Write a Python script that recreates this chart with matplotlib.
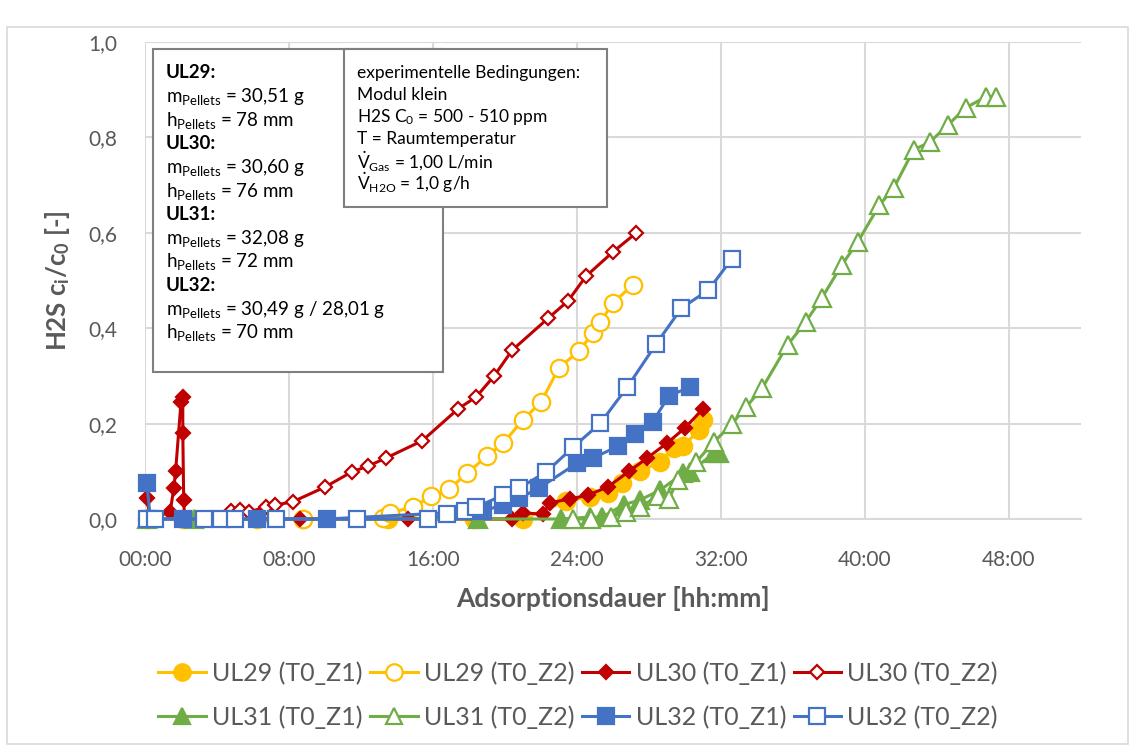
import matplotlib
matplotlib.use("Agg")
import matplotlib.pyplot as plt
from matplotlib.patches import Rectangle
from matplotlib.ticker import FixedLocator, FuncFormatter

plt.rcParams['font.family'] = ['Lato', 'DejaVu Sans']
plt.rcParams['mathtext.fontset'] = 'custom'
plt.rcParams['mathtext.rm'] = 'Lato'
plt.rcParams['mathtext.it'] = 'Lato:italic'
plt.rcParams['mathtext.bf'] = 'Lato:bold'

# ---------------- data (time in hours, ci/c0) ----------------
ul29_z1_t = [0.1, 2.1, 6.2, 8.8, 13.5, 18.3, 21.0, 23.4, 24.7, 25.7, 26.5, 27.5, 28.6, 29.4, 29.9, 30.8, 31.0]
ul29_z1_y = [0, 0, 0, 0, 0, 0, 0, 0.038, 0.046, 0.055, 0.075, 0.10, 0.12, 0.149, 0.153, 0.187, 0.207]

ul29_z2_t = [8.8, 13.2, 13.6, 14.9, 15.9, 16.9, 17.9, 19.0, 19.9, 21.0, 22.0, 23.0, 24.1, 24.9, 25.3, 26.0, 27.1]
ul29_z2_y = [0.0, 0.002, 0.013, 0.025, 0.048, 0.063, 0.096, 0.132, 0.159, 0.208, 0.245, 0.317, 0.352, 0.390, 0.413, 0.453, 0.491]

ul30_z1_t = [0.1, 0.3, 1.4, 1.6, 1.7, 2.0, 2.1, 2.1, 2.15, 2.2, 8.6, 14.6, 18.5, 20.4, 21.0, 22.1, 22.5, 23.6, 24.6, 25.7, 26.9, 27.9, 29.0, 30.0, 31.0]
ul30_z1_y = [0.044, 0.0, 0.015, 0.065, 0.10, 0.245, 0.256, 0.18, 0.04, 0.0, 0.0, 0.0, 0.0, 0.0, 0.013, 0.01, 0.034, 0.042, 0.05, 0.067, 0.10, 0.128, 0.159, 0.191, 0.231]

ul30_z2_t = [4.8, 5.3, 5.8, 6.7, 7.2, 8.2, 10.0, 11.5, 12.4, 13.4, 15.4, 17.4, 18.4, 19.4, 20.4, 22.4, 23.5, 24.5, 26.0, 27.3]
ul30_z2_y = [0.017, 0.019, 0.015, 0.025, 0.029, 0.036, 0.067, 0.099, 0.111, 0.128, 0.164, 0.231, 0.256, 0.300, 0.354, 0.421, 0.457, 0.509, 0.560, 0.600]

ul31_z1_t = [0.1, 2.7, 18.5, 23.1, 24.7, 25.4, 26.6, 27.5, 28.6, 29.9, 30.3, 31.6, 31.9]
ul31_z1_y = [0, 0, 0, 0, 0.004, 0.004, 0.03, 0.04, 0.06, 0.096, 0.099, 0.138, 0.138]

ul31_z2_t = [23.8, 24.8, 25.9, 26.7, 27.5, 28.5, 29.1, 29.6, 30.6, 31.6, 32.6, 33.4, 34.3, 35.7, 36.7, 37.6, 38.7, 39.6, 40.8, 41.6, 42.7, 43.6, 44.6, 45.6, 46.7, 47.3]
ul31_z2_y = [0.0, 0.0, 0.004, 0.015, 0.025, 0.048, 0.042, 0.082, 0.119, 0.161, 0.199, 0.235, 0.275, 0.365, 0.413, 0.463, 0.532, 0.581, 0.658, 0.694, 0.774, 0.790, 0.826, 0.862, 0.885, 0.885]

ul32_z1_t = [0.1, 0.3, 2.1, 6.2, 10.1, 18.8, 19.9, 20.8, 21.9, 24.0, 24.9, 26.3, 27.2, 28.2, 29.1, 30.3]
ul32_z1_y = [0.075, 0.0, 0, 0, 0, 0.017, 0.03, 0.044, 0.065, 0.117, 0.128, 0.153, 0.178, 0.203, 0.258, 0.277]

ul32_z2_t = [0.1, 0.55, 3.3, 4.2, 5.0, 7.3, 11.8, 15.7, 16.8, 17.8, 18.4, 19.9, 20.8, 22.3, 23.8, 25.3, 26.8, 28.4, 29.8, 31.3, 32.6]
ul32_z2_y = [0, 0, 0, 0, 0, 0, 0, 0, 0.01, 0.017, 0.025, 0.05, 0.065, 0.099, 0.151, 0.201, 0.277, 0.367, 0.442, 0.48, 0.545]

labels = ["UL29 (T0_Z1)", "UL29 (T0_Z2)", "UL30 (T0_Z1)", "UL30 (T0_Z2)",
          "UL31 (T0_Z1)", "UL31 (T0_Z2)", "UL32 (T0_Z1)", "UL32 (T0_Z2)"]
x_ticks_h = [0, 8, 16, 24, 32, 40, 48]
y_ticks = [0.0, 0.2, 0.4, 0.6, 0.8, 1.0]

YEL, RED, GRN, BLU = "#FFC000", "#C00000", "#70AD47", "#4472C4"
GRAY = "#595959"

W, H = 1135, 749
fig = plt.figure(figsize=(W / 100, H / 100), dpi=100)
ax = fig.add_axes([145 / W, 1 - 519 / H, (1081 - 145) / W, (519 - 42) / H])

series = [
    (ul29_z1_t, ul29_z1_y, YEL, 'o', True, 12.5),
    (ul29_z2_t, ul29_z2_y, YEL, 'o', False, 12.5),
    (ul30_z1_t, ul30_z1_y, RED, 'D', True, 7.5),
    (ul30_z2_t, ul30_z2_y, RED, 'D', False, 7.5),
    (ul31_z1_t, ul31_z1_y, GRN, '^', True, 12.5),
    (ul31_z2_t, ul31_z2_y, GRN, '^', False, 12.5),
    (ul32_z1_t, ul32_z1_y, BLU, 's', True, 12),
    (ul32_z2_t, ul32_z2_y, BLU, 's', False, 12),
]
handles = []
for (t, y, c, m, filled, ms), lab in zip(series, labels):
    h, = ax.plot(t, y, color=c, lw=2.2, marker=m, ms=ms,
                 mfc=c if filled else 'white', mec=c, mew=1.6,
                 label=lab, clip_on=False, zorder=3)
    handles.append(h)

ax.set_xlim(0, 52)
ax.set_ylim(0, 1.0)
ax.xaxis.set_major_locator(FixedLocator(x_ticks_h))
ax.yaxis.set_major_locator(FixedLocator(y_ticks))
ax.xaxis.set_major_formatter(FuncFormatter(lambda v, p: f"{int(v):02d}:00"))
ax.yaxis.set_major_formatter(FuncFormatter(lambda v, p: f"{v:.1f}".replace('.', ',')))
ax.grid(True, color="#d9d9d9", lw=1.5, zorder=0)
ax.set_axisbelow(True)
for s in ['top', 'right', 'left']:
    ax.spines[s].set_visible(False)
ax.spines['bottom'].set_color("#d9d9d9")
ax.spines['bottom'].set_linewidth(1.5)
ax.tick_params(length=0, labelsize=15, labelcolor=GRAY)
ax.tick_params(axis='y', pad=20)
ax.tick_params(axis='x', pad=22)
ax.set_xlabel("Adsorptionsdauer [hh:mm]", fontsize=19, fontweight='bold', color=GRAY, labelpad=12)
ax.set_ylabel(r"H2S c$_\mathregular{i}$/c$_\mathregular{0}$ [-]", fontsize=18.5, fontweight='bold',
              color=GRAY, labelpad=12)

# legend (row-major order like the original)
order = [0, 4, 1, 5, 2, 6, 3, 7]
fig.legend(handles=[handles[i] for i in order], loc='center', bbox_to_anchor=(578 / W, 1 - 695 / H), ncol=4,
           frameon=False, fontsize=18, handlelength=1.9, handletextpad=0.25,
           columnspacing=0.3, labelspacing=0.8, labelcolor=GRAY, markerscale=0.95)

# text boxes
def px(x, y):
    return x / W, 1 - y / H

b1 = Rectangle(px(153, 372), (443 - 153) / W, (372 - 49) / H, transform=fig.transFigure,
               facecolor='white', edgecolor='#7f7f7f', lw=1.5, zorder=5)
b2 = Rectangle(px(344, 207), (607 - 344) / W, (207 - 49) / H, transform=fig.transFigure,
               facecolor='white', edgecolor='#7f7f7f', lw=1.5, zorder=6)
fig.add_artist(b1)
fig.add_artist(b2)

box1_lines = [
    ("UL29:", True), (r"m$_\mathregular{Pellets}$ = 30,51 g", False), (r"h$_\mathregular{Pellets}$ = 78 mm", False),
    ("UL30:", True), (r"m$_\mathregular{Pellets}$ = 30,60 g", False), (r"h$_\mathregular{Pellets}$ = 76 mm", False),
    ("UL31:", True), (r"m$_\mathregular{Pellets}$ = 32,08 g", False), (r"h$_\mathregular{Pellets}$ = 72 mm", False),
    ("UL32:", True), (r"m$_\mathregular{Pellets}$ = 30,49 g / 28,01 g", False), (r"h$_\mathregular{Pellets}$ = 70 mm", False),
]
for i, (s, bold) in enumerate(box1_lines):
    fig.text(*px(166, 73 + i * 23.6), s, fontsize=13.5, fontweight='bold' if bold else 'normal',
             color='black', va='center', ha='left', zorder=7)

box2_lines = [
    "experimentelle Bedingungen:",
    "Modul klein",
    r"H2S C$_\mathregular{0}$ = 500 - 510 ppm",
    "T = Raumtemperatur",
    r"$\dot{\mathregular{V}}_\mathregular{Gas}$ = 1,00 L/min",
    r"$\dot{\mathregular{V}}_\mathregular{H2O}$ = 1,0 g/h",
]
for i, s in enumerate(box2_lines):
    fig.text(*px(357, 73 + i * 22), s, fontsize=12.5, color='black', va='center', ha='left', zorder=7)

# chart area border
fig.add_artist(Rectangle(px(7, 744), (1128 - 7) / W, (744 - 27) / H, transform=fig.transFigure,
                         facecolor='none', edgecolor='#d9d9d9', lw=1.2))

fig.savefig("out.png", dpi=100)
